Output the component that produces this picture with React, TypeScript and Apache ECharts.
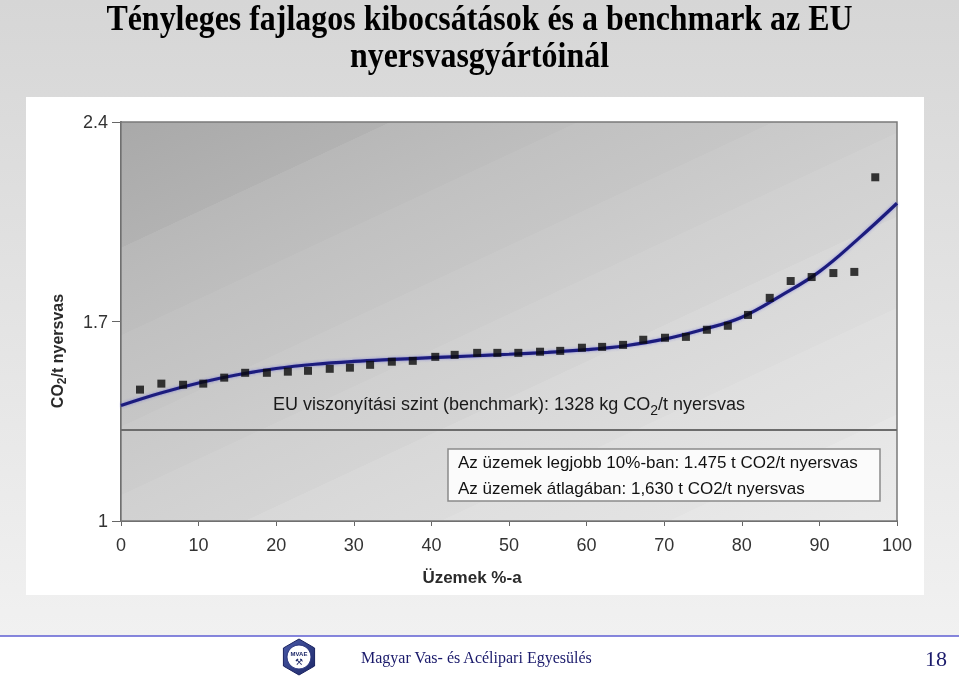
import React, { useEffect, useRef } from "react";
import * as echarts from "echarts";

const titleLines = ["Tényleges fajlagos kibocsátások és a benchmark az EU", "nyersvasgyártóinál"];

// x: plants' cumulative share (%), y: t CO2 / t pig iron
const plantShare = [
  2.45, 5.2, 8.0, 10.6, 13.3, 16.0, 18.8, 21.5, 24.1, 26.9,
  29.5, 32.1, 34.9, 37.6, 40.5, 43.0, 45.9, 48.5, 51.2, 54.0,
  56.6, 59.4, 62.0, 64.7, 67.3, 70.1, 72.8, 75.5, 78.2, 80.8,
  83.6, 86.3, 89.0, 91.8, 94.5, 97.2,
];
const emission = [
  1.461, 1.482, 1.478, 1.482, 1.503, 1.52, 1.52, 1.524, 1.527, 1.534,
  1.538, 1.548, 1.559, 1.562, 1.576, 1.583, 1.59, 1.59, 1.59, 1.594,
  1.597, 1.608, 1.611, 1.618, 1.636, 1.643, 1.646, 1.671, 1.685, 1.723,
  1.783, 1.842, 1.856, 1.87, 1.874, 2.206,
];

// fitted trend curve
const trendX = [0, 5, 10, 15, 20, 25, 30, 35, 40, 45, 50, 55, 60, 65, 70, 75, 80, 85, 90, 95, 100];
const trendY = [
  1.405, 1.448, 1.484, 1.513, 1.535, 1.55, 1.56, 1.567, 1.573, 1.579,
  1.585, 1.592, 1.601, 1.615, 1.638, 1.672, 1.715, 1.79, 1.875, 1.99, 2.115,
];

const benchmarkLevel = 1.318;
const yTicks = [1, 1.7, 2.4];
const xMin = 0;
const xMax = 100;
const xInterval = 10;

const benchmarkText = ["EU viszonyítási szint (benchmark): 1328 kg CO", "2", "/t nyersvas"];
const boxLines = [
  "Az üzemek legjobb 10%-ban: 1.475 t CO2/t nyersvas",
  "Az üzemek átlagában: 1,630 t CO2/t nyersvas",
];
const yName = ["CO", "2", "/t nyersvas"];
const xName = "Üzemek %-a";
const footerText = "Magyar Vas- és Acélipari Egyesülés";
const pageNumber = "18";

const SANS = "Liberation Sans, Arial, sans-serif";
const SERIF = "Liberation Serif, Times New Roman, serif";

export default function App() {
  const ref = useRef<HTMLDivElement>(null);

  useEffect(() => {
    if (!ref.current) return;
    const chart = echarts.init(ref.current, null, { renderer: "svg" });

    const gl = 121, gt = 122, gw = 776, gh = 399;
    const bandColors: [string, string][] = [
      ["#a9a9a9", "#b2b2b2"],
      ["#b8b8b8", "#bebebe"],
      ["#c1c1c1", "#c6c6c6"],
      ["#c9c9c9", "#cdcdcd"],
      ["#d0d0d0", "#d4d4d4"],
      ["#d8d8d8", "#dcdcdc"],
      ["#dfdfdf", "#e3e3e3"],
      ["#e6e6e6", "#ebebeb"],
    ];
    const bounds = [0, 0.165, 0.28, 0.4, 0.49, 0.6, 0.72, 0.86, 1];
    const stops: { offset: number; color: string }[] = [];
    bandColors.forEach((c, i) => {
      stops.push({ offset: bounds[i] + (i === 0 ? 0 : 0.0005), color: c[0] });
      stops.push({ offset: bounds[i + 1], color: c[1] });
    });
    const dirX = 0.423, dirY = 0.906;
    const span = gw * dirX + gh * dirY;
    const plotBg = new echarts.graphic.LinearGradient(
      gl, gt, gl + dirX * span, gt + dirY * span, stops, true
    );

    const slideBg = new echarts.graphic.LinearGradient(0, 0, 0, 1, [
      { offset: 0, color: "#d6d6d6" },
      { offset: 1, color: "#f1f1f1" },
    ]);
    const hexFill = new echarts.graphic.LinearGradient(0, 0, 1, 1, [
      { offset: 0, color: "#4a5aa8" },
      { offset: 1, color: "#1d2868" },
    ]);

    const hexPts: number[][] = [];
    for (let k = 0; k < 6; k++) {
      const a = -Math.PI / 2 + (k * Math.PI) / 3;
      hexPts.push([Math.cos(a) * 18, Math.sin(a) * 18]);
    }

    const titleStyle = {
      align: "center",
      verticalAlign: "middle",
      fontSize: 35,
      fontWeight: "bold",
      fontFamily: SERIF,
      fill: "#000",
    };

    const option: any = {
      animation: false,
      grid: {
        left: gl,
        top: gt,
        width: gw,
        height: gh,
        show: true,
        backgroundColor: plotBg,
        borderColor: "#7a7a7a",
        borderWidth: 1.5,
        z: 1,
      },
      xAxis: {
        type: "value",
        min: xMin,
        max: xMax,
        interval: xInterval,
        axisLine: { show: true, onZero: false, lineStyle: { color: "#555", width: 2 } },
        axisTick: { show: true, length: 5, lineStyle: { color: "#666" } },
        axisLabel: { fontSize: 18, color: "#333", margin: 15, fontFamily: SANS },
        splitLine: { show: false },
      },
      yAxis: {
        type: "value",
        min: yTicks[0],
        max: yTicks[yTicks.length - 1],
        axisLine: { show: true, lineStyle: { color: "#555", width: 2 } },
        axisTick: { show: true, length: 9, customValues: yTicks, lineStyle: { color: "#666" } },
        axisLabel: {
          fontSize: 18,
          color: "#333",
          margin: 13,
          fontFamily: SANS,
          customValues: yTicks,
          formatter: (v: number) => String(Math.round(v * 10) / 10),
        },
        splitLine: { show: false },
      },
      series: [
        {
          type: "line",
          data: trendX.map((x, i) => [x, trendY[i]]),
          smooth: 0.4,
          showSymbol: false,
          symbol: "none",
          lineStyle: { color: "#1b1b7d", width: 3.2, shadowColor: "rgba(60,60,220,0.45)", shadowBlur: 3 },
          z: 3,
          markLine: {
            silent: true,
            symbol: "none",
            lineStyle: { color: "#6c6c6c", width: 2, type: "solid" },
            label: {
              show: true,
              position: "insideMiddleTop",
              distance: 15,
              formatter: `{a|${benchmarkText[0]}}{s|${benchmarkText[1]}}{a|${benchmarkText[2]}}`,
              rich: {
                a: { fontSize: 18, color: "#1a1a1a", fontFamily: SANS, lineHeight: 22 },
                s: { fontSize: 14, color: "#1a1a1a", fontFamily: SANS, padding: [12, 0, 0, 0], lineHeight: 22 },
              },
            },
            data: [{ yAxis: benchmarkLevel }],
          },
        },
        {
          type: "scatter",
          data: plantShare.map((x, i) => [x, emission[i]]),
          symbol: "rect",
          symbolSize: 8,
          itemStyle: { color: "#0a0a0a" },
          z: 4,
        },
      ],
      graphic: [
        { type: "rect", z: -100, silent: true, shape: { x: 0, y: 0, width: 959, height: 636 }, style: { fill: slideBg } },
        { type: "rect", z: -100, silent: true, shape: { x: 0, y: 636, width: 959, height: 40 }, style: { fill: "#ffffff" } },
        { type: "rect", z: -90, silent: true, shape: { x: 26, y: 97, width: 898, height: 498 }, style: { fill: "#ffffff" } },
        { type: "line", z: -80, silent: true, shape: { x1: 0, y1: 636, x2: 959, y2: 636 }, style: { stroke: "#5e5ed2", lineWidth: 1.5 } },
        { type: "text", z: 50, x: 479.5, y: 18, scaleX: 0.913, style: { ...titleStyle, text: titleLines[0] } },
        { type: "text", z: 50, x: 479.5, y: 55, scaleX: 0.913, style: { ...titleStyle, text: titleLines[1] } },
        {
          type: "text",
          z: 50,
          x: 57,
          y: 351,
          rotation: Math.PI / 2,
          style: {
            text: `{a|${yName[0]}}{s|${yName[1]}}{a|${yName[2]}}`,
            align: "center",
            verticalAlign: "middle",
            rich: {
              a: { fontSize: 16, fontWeight: "bold", fill: "#2a2a2a", fontFamily: SANS, lineHeight: 20 },
              s: { fontSize: 12, fontWeight: "bold", fill: "#2a2a2a", fontFamily: SANS, padding: [9, 0, 0, 0], lineHeight: 20 },
            },
          },
        },
        {
          type: "text",
          z: 50,
          x: 472,
          y: 577,
          style: {
            text: xName,
            align: "center",
            verticalAlign: "middle",
            fontSize: 17,
            fontWeight: "bold",
            fontFamily: SANS,
            fill: "#2a2a2a",
          },
        },
        { type: "rect", z: 60, shape: { x: 448, y: 449, width: 432, height: 52 }, style: { fill: "#fbfbfb", stroke: "#8a8a8a", lineWidth: 1.5 } },
        {
          type: "text",
          z: 61,
          x: 458,
          y: 462,
          style: { text: boxLines[0], align: "left", verticalAlign: "middle", fontSize: 17, fontFamily: SANS, fill: "#111" },
        },
        {
          type: "text",
          z: 61,
          x: 458,
          y: 488,
          style: { text: boxLines[1], align: "left", verticalAlign: "middle", fontSize: 17, fontFamily: SANS, fill: "#111" },
        },
        { type: "polygon", z: 50, x: 299, y: 657, shape: { points: hexPts }, style: { fill: hexFill, stroke: "#1a2260", lineWidth: 1 } },
        { type: "circle", z: 51, x: 299, y: 657, shape: { cx: 0, cy: 0, r: 12 }, style: { fill: "#ffffff", stroke: "#2a3580", lineWidth: 1 } },
        { type: "text", z: 52, x: 299, y: 654, style: { text: "MVAE", align: "center", verticalAlign: "middle", fontSize: 6, fontWeight: "bold", fontFamily: SANS, fill: "#1d2868" } },
        { type: "text", z: 52, x: 299, y: 662, style: { text: "⚒", align: "center", verticalAlign: "middle", fontSize: 9, fontFamily: "DejaVu Sans", fill: "#1d2868" } },
        {
          type: "text",
          z: 50,
          x: 361,
          y: 657,
          style: { text: footerText, align: "left", verticalAlign: "middle", fontSize: 16, fontFamily: SERIF, fill: "#1a1a6b" },
        },
        {
          type: "text",
          z: 50,
          x: 947,
          y: 658,
          style: { text: pageNumber, align: "right", verticalAlign: "middle", fontSize: 22, fontFamily: SERIF, fill: "#1a1a6b" },
        },
      ],
    };

    chart.setOption(option);
    return () => chart.dispose();
  }, []);

  return (
    <div
      ref={ref}
      style={{ position: "fixed", left: 0, top: 0, width: 959, height: 676 }}
    />
  );
}
